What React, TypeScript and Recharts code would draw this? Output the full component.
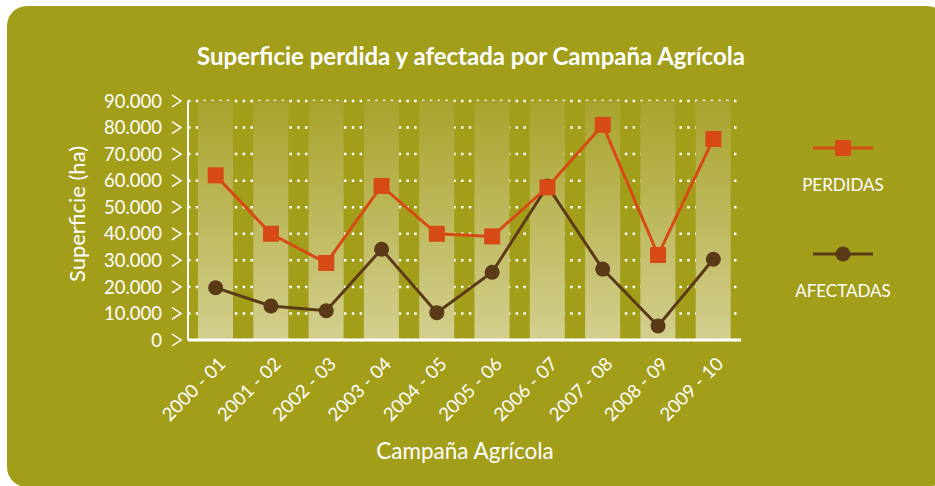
import React from 'react';
import {
	ComposedChart,
	Bar,
	Line,
	XAxis,
	YAxis,
	CartesianGrid,
} from 'recharts';

const campanas = [
	'2000 - 01',
	'2001 - 02',
	'2002 - 03',
	'2003 - 04',
	'2004 - 05',
	'2005 - 06',
	'2006 - 07',
	'2007 - 08',
	'2008 - 09',
	'2009 - 10',
];
const perdidas = [62000, 40000, 29000, 58000, 40000, 39000, 57500, 81000, 32000, 75700];
const afectadas = [19700, 12800, 11000, 34200, 10300, 25500, 58000, 26700, 5300, 30400];
// background bands, full height of the axis
const fondo = [90000, 90000, 90000, 90000, 90000, 90000, 90000, 90000, 90000, 90000];
const yTicks = [0, 10000, 20000, 30000, 40000, 50000, 60000, 70000, 80000, 90000];

const data = campanas.map((c, i) => ({
	campana: c,
	perdidas: perdidas[i],
	afectadas: afectadas[i],
	fondo: fondo[i],
}));

const BG = '#A39E1A';
const ORANGE = '#D84A15';
const BROWN = '#5B3A18';
const FONT = 'Lato, "Open Sans", sans-serif';

const fmt = (v: number) => String(v).replace(/\B(?=(\d{3})+(?!\d))/g, '.');

function YTick({ y, payload }: any) {
	return (
		<g>
			<text
				x={162}
				y={y}
				dy="0.36em"
				textAnchor="end"
				fill="#fff"
				fontSize={18.5}
				fontFamily={FONT}
			>
				{fmt(payload.value)}
			</text>
			<polyline
				points={`${172},${y - 6} ${181},${y} ${172},${y + 6}`}
				fill="none"
				stroke="#fff"
				strokeWidth={1.5}
			/>
		</g>
	);
}

function XTick({ x, y, payload }: any) {
	return (
		<g transform={`translate(${x + 2},${y + 8})`}>
			<text
				x={0}
				y={0}
				dy="0.7em"
				textAnchor="end"
				transform="rotate(-45)"
				fill="#fff"
				fontSize={18.5}
				fontFamily={FONT}
			>
				{payload.value}
			</text>
		</g>
	);
}

function SquareDot({ cx, cy, index }: any) {
	return <rect key={index} x={cx - 8} y={cy - 8} width={16} height={16} fill={ORANGE} />;
}

function CircleDot({ cx, cy, index }: any) {
	return <circle key={index} cx={cx} cy={cy} r={7.5} fill={BROWN} />;
}

function LegendItem({ top, color, label, square }: any) {
	return (
		<div style={{ position: 'absolute', left: 790, top, width: 106 }}>
			<svg width={106} height={20} style={{ display: 'block' }}>
				<line x1={23} x2={83} y1={10} y2={10} stroke={color} strokeWidth={3} />
				{square ? (
					<rect x={45} y={2} width={16} height={16} fill={color} />
				) : (
					<circle cx={53} cy={10} r={7.5} fill={color} />
				)}
			</svg>
			<div
				style={{
					marginTop: 17,
					textAlign: 'center',
					color: '#fff',
					fontSize: 17,
					fontFamily: FONT,
					lineHeight: '20px',
				}}
			>
				{label}
			</div>
		</div>
	);
}

export default function App() {
	return (
		<div
			style={{
				position: 'absolute',
				left: 0,
				top: 0,
				width: 935,
				height: 486,
				overflow: 'hidden',
				background: '#fff',
			}}
		>
			<div
				style={{
					position: 'absolute',
					left: 7,
					top: 6,
					width: 940,
					height: 481,
					borderRadius: 20,
					background: BG,
				}}
			/>
			<div
				style={{
					position: 'absolute',
					left: 0,
					width: 942,
					top: 41,
					textAlign: 'center',
					color: '#fff',
					fontWeight: 700,
					fontSize: 24,
					fontFamily: FONT,
					lineHeight: '30px',
				}}
			>
				Superficie perdida y afectada por Campaña Agrícola
			</div>
			<div
				style={{
					position: 'absolute',
					left: 76,
					top: 214,
					transform: 'translate(-50%, -50%) rotate(-90deg)',
					color: '#fff',
					fontSize: 22,
					fontFamily: FONT,
					whiteSpace: 'nowrap',
				}}
			>
				Superficie (ha)
			</div>
			<div
				style={{
					position: 'absolute',
					left: 465,
					top: 450,
					transform: 'translate(-50%, -50%)',
					color: '#fff',
					fontSize: 22.5,
					fontFamily: FONT,
					whiteSpace: 'nowrap',
				}}
			>
				Campaña Agrícola
			</div>
			<div style={{ position: 'absolute', left: 0, top: 0 }}>
				<ComposedChart
					width={935}
					height={486}
					data={data}
					margin={{ top: 101, right: 194, bottom: 0, left: 0 }}
				>
					<defs>
						<linearGradient id="bandGrad" x1="0" y1="0" x2="0" y2="1">
							<stop offset="0%" stopColor="#A8A32C" />
							<stop offset="100%" stopColor="#D3CF8F" />
						</linearGradient>
					</defs>
					<CartesianGrid
						vertical={false}
						stroke="#fff"
						strokeWidth={2.5}
						strokeDasharray="2.5 5.3"
					/>
					<XAxis
						dataKey="campana"
						height={146}
						axisLine={{ stroke: '#fff', strokeWidth: 3 }}
						tickLine={false}
						tick={<XTick />}
						interval={0}
					/>
					<YAxis
						width={188}
						domain={[0, 90000]}
						ticks={yTicks}
						interval={0}
						axisLine={{ stroke: '#fff', strokeWidth: 2 }}
						tickLine={false}
						tick={<YTick />}
					/>
					<Bar
						dataKey="fondo"
						fill="url(#bandGrad)"
						barSize={35}
						isAnimationActive={false}
					/>
					<Line
						type="linear"
						dataKey="afectadas"
						stroke={BROWN}
						strokeWidth={3}
						dot={<CircleDot />}
						activeDot={false}
						isAnimationActive={false}
					/>
					<Line
						type="linear"
						dataKey="perdidas"
						stroke={ORANGE}
						strokeWidth={3}
						dot={<SquareDot />}
						activeDot={false}
						isAnimationActive={false}
					/>
				</ComposedChart>
			</div>
			<LegendItem top={138} color={ORANGE} label="PERDIDAS" square />
			<LegendItem top={244} color={BROWN} label="AFECTADAS" />
		</div>
	);
}
